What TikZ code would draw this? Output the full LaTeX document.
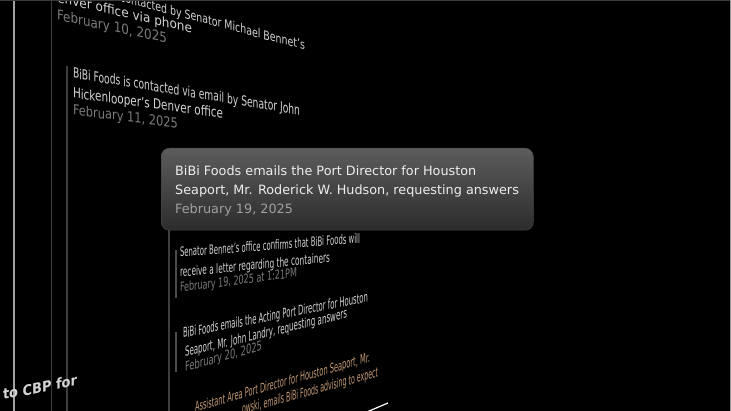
\documentclass[tikz,border=0pt]{standalone}
\usepackage{fontspec}
\setmainfont{DejaVu Sans}
\usepackage{graphicx}
\definecolor{bodytxt}{HTML}{D4D4D4}
\definecolor{datetxt}{HTML}{7C7C7C}
\definecolor{ortxt}{HTML}{C49A74}
\definecolor{vline}{HTML}{3E3E3E}
\definecolor{cardtxt}{HTML}{EDEDED}
\definecolor{carddate}{HTML}{A0A0A0}
% perspective line of text: name, x1, y1, x2, y2, height, colour, text
\newcommand\pline[8]{%
  \pgfmathsetmacro\plw{#4-#2}%
  \pgfmathsetmacro\pls{-(#5-#3)/(#4-#2)}%
  \begin{scope}[shift={(#2,#3)},yslant=\pls]
    \node[anchor=base west,inner sep=0pt,outer sep=0pt,transform shape,text=#7] (#1) at (0,0) {\resizebox{\plw pt}{#6pt}{#8}};
  \end{scope}}
\tikzset{
  railline/.style={draw=vline,line width=1.4pt},
  cardbox/.style={anchor=north west,rounded corners=8pt,minimum width=372pt,minimum height=82pt,
    top color={rgb,255:red,92;green,92;blue,92},bottom color={rgb,255:red,44;green,44;blue,44},
    draw={rgb,255:red,70;green,70;blue,70},line width=0.5pt,inner sep=0pt},
  cardline/.style={anchor=base west,inner sep=0pt,text=cardtxt,font=\fontsize{12.8}{15}\selectfont}
}
\begin{document}
\begin{tikzpicture}[x=1pt,y=-1pt]
\useasboundingbox (0,0) rectangle (731,411);
\fill[black] (0,0) rectangle (731,411);
\begin{scope}
\clip (0,0) rectangle (731,411);
% vertical rails
\draw[draw={rgb,255:red,160;green,160;blue,160},line width=2pt] (13.5,0) -- (13.5,411);
\draw[railline] (51.5,0) -- (51.5,411);
\draw[railline] (67,66) -- (67,411);
\draw[railline] (169,230) -- (169,411);
\draw[draw={rgb,255:red,75;green,75;blue,75},line width=1.4pt] (176,250) -- (176,298);
\draw[draw={rgb,255:red,75;green,75;blue,75},line width=1.4pt] (176,332) -- (176,372);
% upper entries
\pline{t1a}{58}{-15}{305}{50}{9.5}{bodytxt}{BiBi Foods is contacted by Senator Michael Bennet's}
\pline{t1b}{48}{0}{192}{33}{10}{bodytxt}{Denver office via phone}
\pline{t1c}{57}{20}{167}{43}{10.5}{datetxt}{February 10, 2025}
\pline{t2a}{73}{78}{300}{115}{10.5}{bodytxt}{BiBi Foods is contacted via email by Senator John}
\pline{t2b}{73}{98}{223}{118}{10.5}{bodytxt}{Hickenlooper's Denver office}
\pline{t2c}{73}{115}{178}{128}{10.5}{datetxt}{February 11, 2025}
% lower entries
\pline{t3a}{180}{257}{360}{243}{9.8}{bodytxt}{Senator Bennet's office confirms that BiBi Foods will}
\pline{t3b}{180}{277}{330}{262}{9.8}{bodytxt}{receive a letter regarding the containers}
\pline{t3c}{180}{292}{297}{277}{9.5}{datetxt}{February 19, 2025 at 1:21PM}
\pline{t4a}{183}{338}{368}{302}{10.3}{bodytxt}{BiBi Foods emails the Acting Port Director for Houston}
\pline{t4b}{185}{357}{347}{318}{10.3}{bodytxt}{Seaport, Mr. John Landry, requesting answers}
\pline{t4c}{185}{372}{262}{350}{10}{datetxt}{February 20, 2025}
\pline{t5a}{195}{412}{370}{362}{10}{ortxt}{Assistant Area Port Director for Houston Seaport, Mr.}
\pline{t5b}{242}{414}{378}{377}{10}{ortxt}{owski, emails BiBi Foods advising to expect}
\pline{t6}{3}{400}{77}{385}{11}{bodytxt}{\bfseries to CBP for}
% short white stroke
\coordinate (wsA) at (368,411.5);
\coordinate (wsB) at (388,403);
\draw[white,line width=1.2pt] (wsA) -- (wsB);
\end{scope}
% highlighted card
\node[cardbox] (card) at (161,148) {};
\node[cardline] (c1) at (175,176) {BiBi Foods emails the Port Director for Houston};
\node[cardline] (c2) at (175,195) {Seaport, Mr. Roderick W. Hudson, requesting answers};
\node[cardline,text=carddate] (c3) at (175,213.5) {February 19, 2025};
% frame edges
\draw[draw={rgb,255:red,58;green,58;blue,58},line width=1pt] (0,0.5) -- (731,0.5);
\draw[draw={rgb,255:red,150;green,150;blue,150},line width=0.8pt] (730.6,0) -- (730.6,411);
\end{tikzpicture}
\end{document}
